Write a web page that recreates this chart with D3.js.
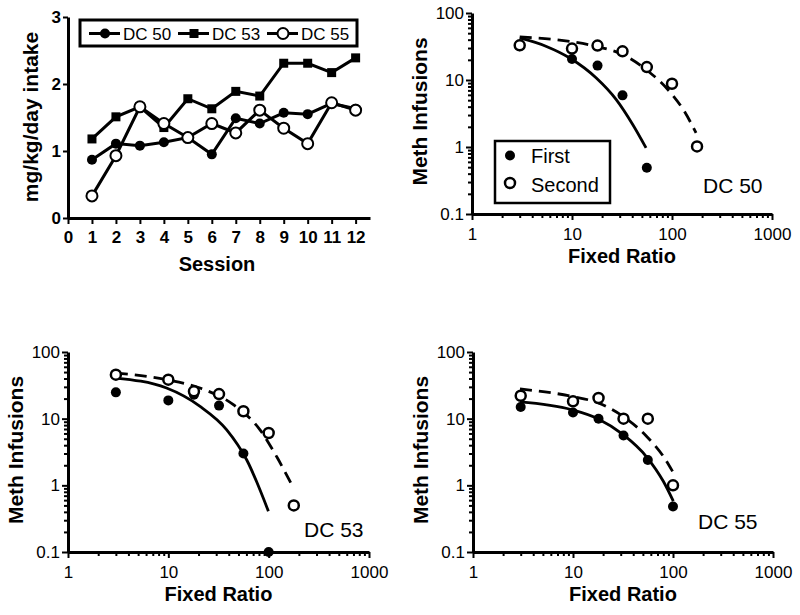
<!DOCTYPE html>
<html><head><meta charset="utf-8">
<script src="https://cdn.jsdelivr.net/npm/d3@7"></script>
<style>body{margin:0;background:#fff}svg{display:block}text{font-family:"Liberation Sans",Arial,sans-serif;fill:#000}</style>
</head><body>
<script>
// ---- Panel A: intake across sessions ----
const sessions = [1,2,3,4,5,6,7,8,9,10,11,12];
const sessionTicks = [0,1,2,3,4,5,6,7,8,9,10,11,12];
const intakeTicks = [0,1,2,3];
const dc50Intake = [0.87,1.11,1.08,1.13,1.20,0.95,1.49,1.41,1.57,1.55,1.71,1.63];
const dc53Intake = [1.18,1.51,1.66,1.35,1.78,1.63,1.89,1.82,2.31,2.31,2.17,2.39];
const dc55Intake = [0.33,0.93,1.66,1.41,1.20,1.41,1.27,1.61,1.34,1.11,1.72,1.61];
const intakeSeries = ["DC 50","DC 53","DC 55"];

// ---- Demand panels ----
const fixedRatios = [3,10,18,32,56,100,178];
const logTicks = [0.1,1,10,100];
const frTicks = [1,10,100,1000];

const dc50First  = [32,20.6,16.4,5.9,0.49];
const dc50Second = [32.9,29.4,32.6,26.8,15.6,8.8,1.02];
const dc53First  = [24.8,18.8,22.9,15.7,3.0,0.1];
const dc53Second = [45.7,38.5,25.7,23.4,12.9,6.1,0.5];
const dc55First  = [15,12.4,10,5.6,2.4,0.48];
const dc55Second = [22.1,18.2,20.4,10,10,1.0];

// fitted curves
const dc50FirstCurveFR  = [3,5.55,9.5,17.5,27.7,40.6,55];
const dc50FirstCurveQ   = [42.4,31.7,21.3,10.7,5.1,2.15,0.97];
const dc50SecondCurveFR = [3,9.5,17.5,32.3,55,94,133,174];
const dc50SecondCurveQ  = [43.8,37.7,31.7,23.9,14.3,6.8,3.4,1.62];
const dc53FirstCurveFR  = [2.94,9.6,20.7,38.2,60.5,99.3];
const dc53FirstCurveQ   = [40.7,28.8,15.3,6.8,2.4,0.41];
const dc53SecondCurveFR = [3,9.6,20.7,44.5,82,120,170];
const dc53SecondCurveQ  = [48.4,38.5,28.8,16.2,6.8,2.7,1.02];
const dc55FirstCurveFR  = [2.95,9.7,17.9,31.8,54.6,80,100.7];
const dc55FirstCurveQ   = [17.8,13.6,9.9,5.75,2.66,1.15,0.58];
const dc55SecondCurveFR = [2.95,9.7,17.9,31.8,54.6,80,99];
const dc55SecondCurveQ  = [27.9,21.6,17.2,10.8,5.4,2.72,1.62];

const W = 800, H = 615;
const svg = d3.select("body").append("svg").attr("width", W).attr("height", H);
const FONT = '"Liberation Sans",Arial,sans-serif';

function styleAxis(g, fontSize, bold) {
  g.select(".domain").attr("stroke", "#000").attr("stroke-width", 3);
  g.selectAll(".tick line").attr("stroke", "#000").attr("stroke-width", 2);
  g.selectAll(".tick text").attr("font-size", fontSize).attr("font-family", FONT)
    .attr("font-weight", bold ? "bold" : "normal").attr("fill", "#000");
}

function drawMarker(g, kind, cx, cy) {
  if (kind === "circle") g.append("circle").attr("cx", cx).attr("cy", cy).attr("r", 5).attr("fill", "#000");
  else if (kind === "square") g.append("rect").attr("x", cx - 4.5).attr("y", cy - 4.5).attr("width", 9).attr("height", 9).attr("fill", "#000");
  else g.append("circle").attr("cx", cx).attr("cy", cy).attr("r", 5.5).attr("fill", "#fff").attr("stroke", "#000").attr("stroke-width", 2);
}

// ===== Panel A =====
(function(){
  const x = d3.scaleLinear().domain([0, 12.6]).range([68, 370]);
  const y = d3.scaleLinear().domain([0, 3]).range([218, 17]);
  const g = svg.append("g");
  const xa = g.append("g").attr("transform", `translate(0,${y(0)})`)
    .call(d3.axisBottom(x).tickValues(sessionTicks).tickSize(6).tickPadding(7).tickSizeOuter(0));
  styleAxis(xa, 17, true);
  const ya = g.append("g").attr("transform", `translate(${x(0)},0)`)
    .call(d3.axisLeft(y).tickValues(intakeTicks).tickFormat(d3.format("d")).tickSize(5).tickPadding(2).tickSizeOuter(0));
  styleAxis(ya, 17, true);

  g.append("text").attr("x", 217).attr("y", 271).attr("text-anchor", "middle")
    .attr("font-size", 20).attr("font-weight", "bold").text("Session");
  g.append("text").attr("transform", `translate(38,117) rotate(-90)`).attr("text-anchor", "middle")
    .attr("font-size", 21).attr("font-weight", "bold").text("mg/kg/day intake");

  const line = d3.line().x((d,i) => x(sessions[i])).y(d => y(d));
  const data = [dc50Intake, dc53Intake, dc55Intake];
  const kinds = ["circle", "square", "open"];
  data.forEach((vals, k) => {
    g.append("path").attr("d", line(vals)).attr("fill", "none").attr("stroke", "#000").attr("stroke-width", 3);
    vals.forEach((v, i) => drawMarker(g, kinds[k], x(sessions[i]), y(v)));
  });

  // legend
  const lg = g.append("g");
  lg.append("rect").attr("x", 80).attr("y", 20).attr("width", 277).attr("height", 26)
    .attr("fill", "#fff").attr("stroke", "#000").attr("stroke-width", 3);
  const lx = [89, 178, 267];
  intakeSeries.forEach((name, k) => {
    lg.append("line").attr("x1", lx[k]).attr("x2", lx[k] + 31).attr("y1", 33.5).attr("y2", 33.5)
      .attr("stroke", "#000").attr("stroke-width", 3);
    drawMarker(lg, kinds[k], lx[k] + 16, 33.5);
    lg.append("text").attr("x", lx[k] + 34).attr("y", 40).attr("font-size", 17).text(name);
  });
})();

// ===== Demand panels =====
function minorTicks(lo, hi) {
  const out = [];
  for (let p = lo; p < hi; p *= 10) for (let m = 2; m <= 9; m++) out.push(p * m);
  return out;
}

function demandPanel(opt) {
  const x = d3.scaleLog().domain([1, 1000]).range(opt.xr);
  const y = d3.scaleLog().domain([0.1, 100]).range(opt.yr);
  const g = svg.append("g");
  const fmt = d => (d < 1 ? "0.1" : d3.format("d")(d));

  const xm = g.append("g").attr("transform", `translate(0,${opt.yr[0]})`)
    .call(d3.axisBottom(x).tickValues(minorTicks(1, 1000)).tickFormat("").tickSize(4).tickSizeOuter(0));
  xm.select(".domain").remove();
  xm.selectAll(".tick line").attr("stroke", "#000").attr("stroke-width", 2);
  const ym = g.append("g").attr("transform", `translate(${opt.xr[0]},0)`)
    .call(d3.axisLeft(y).tickValues(minorTicks(0.1, 100)).tickFormat("").tickSize(4).tickSizeOuter(0));
  ym.select(".domain").remove();
  ym.selectAll(".tick line").attr("stroke", "#000").attr("stroke-width", 2);

  const xa = g.append("g").attr("transform", `translate(0,${opt.yr[0]})`)
    .call(d3.axisBottom(x).tickValues(frTicks).tickFormat(d3.format("d")).tickSize(6).tickPadding(8).tickSizeOuter(0));
  styleAxis(xa, 17, false);
  const ya = g.append("g").attr("transform", `translate(${opt.xr[0]},0)`)
    .call(d3.axisLeft(y).tickValues(logTicks).tickFormat(fmt).tickSize(6).tickPadding(2).tickSizeOuter(0));
  styleAxis(ya, 17, false);

  const cx = (opt.xr[0] + opt.xr[1]) / 2, cy = (opt.yr[0] + opt.yr[1]) / 2;
  g.append("text").attr("x", cx).attr("y", opt.yr[0] + 49).attr("text-anchor", "middle")
    .attr("font-size", 20).attr("font-weight", "bold").text("Fixed Ratio");
  g.append("text").attr("transform", `translate(${opt.xr[0] - 45},${cy - 2}) rotate(-90)`).attr("text-anchor", "middle")
    .attr("font-size", 21).attr("font-weight", "bold").text("Meth Infusions");

  const line = d3.line().x(d => x(d[0])).y(d => y(d[1])).curve(d3.curveMonotoneX);
  g.append("path").attr("d", line(opt.firstCurveFR.map((f, i) => [f, opt.firstCurveQ[i]])))
    .attr("fill", "none").attr("stroke", "#000").attr("stroke-width", 2.8);
  g.append("path").attr("d", line(opt.secondCurveFR.map((f, i) => [f, opt.secondCurveQ[i]])))
    .attr("fill", "none").attr("stroke", "#000").attr("stroke-width", 2.8).attr("stroke-dasharray", "12,7");

  opt.first.forEach((v, i) => g.append("circle").attr("cx", x(fixedRatios[i])).attr("cy", y(v)).attr("r", 5).attr("fill", "#000"));
  opt.second.forEach((v, i) => g.append("circle").attr("cx", x(fixedRatios[i])).attr("cy", y(v)).attr("r", 5)
    .attr("fill", "#fff").attr("stroke", "#000").attr("stroke-width", 2.5));

  g.append("text").attr("x", opt.labelPos[0]).attr("y", opt.labelPos[1]).attr("font-size", 21).text(opt.label);

  if (opt.legend) {
    const lg = g.append("g");
    lg.append("rect").attr("x", 495).attr("y", 141).attr("width", 115).attr("height", 62)
      .attr("fill", "none").attr("stroke", "#000").attr("stroke-width", 2.5);
    lg.append("circle").attr("cx", 510).attr("cy", 155.5).attr("r", 5).attr("fill", "#000");
    lg.append("circle").attr("cx", 510).attr("cy", 183).attr("r", 5).attr("fill", "#fff").attr("stroke", "#000").attr("stroke-width", 2.5);
    lg.append("text").attr("x", 531).attr("y", 163).attr("font-size", 20).text("First");
    lg.append("text").attr("x", 531).attr("y", 192).attr("font-size", 20).text("Second");
  }
}

demandPanel({xr: [472, 772], yr: [214, 13], first: dc50First, second: dc50Second,
  firstCurveFR: dc50FirstCurveFR, firstCurveQ: dc50FirstCurveQ,
  secondCurveFR: dc50SecondCurveFR, secondCurveQ: dc50SecondCurveQ,
  label: "DC 50", labelPos: [703, 193], legend: true});
demandPanel({xr: [68, 369], yr: [552, 352], first: dc53First, second: dc53Second,
  firstCurveFR: dc53FirstCurveFR, firstCurveQ: dc53FirstCurveQ,
  secondCurveFR: dc53SecondCurveFR, secondCurveQ: dc53SecondCurveQ,
  label: "DC 53", labelPos: [304, 537]});
demandPanel({xr: [473, 773], yr: [552, 352], first: dc55First, second: dc55Second,
  firstCurveFR: dc55FirstCurveFR, firstCurveQ: dc55FirstCurveQ,
  secondCurveFR: dc55SecondCurveFR, secondCurveQ: dc55SecondCurveQ,
  label: "DC 55", labelPos: [698, 529]});
</script>
</body></html>
